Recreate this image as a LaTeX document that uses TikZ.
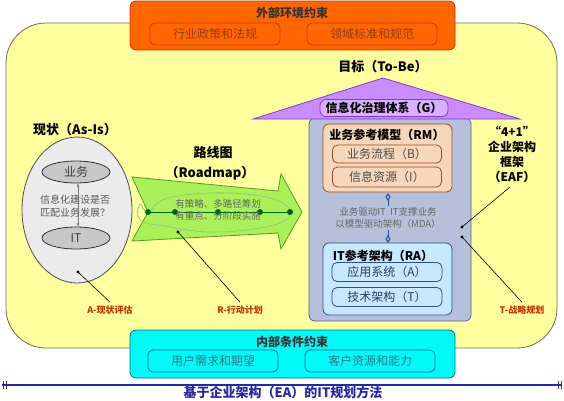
\documentclass[tikz,border=0pt]{standalone}
\usepackage{fontspec}
\setmainfont{Noto Sans CJK SC}
\usetikzlibrary{arrows.meta,shapes.geometric}
\definecolor{yel}{RGB}{255,255,160}
\definecolor{yelb}{RGB}{110,110,80}
\definecolor{org}{RGB}{255,102,0}
\definecolor{orgb}{RGB}{190,60,10}
\definecolor{orgt}{RGB}{150,60,20}
\definecolor{cyn}{RGB}{0,250,250}
\definecolor{cynb}{RGB}{0,110,140}
\definecolor{cynt}{RGB}{50,120,130}
\definecolor{grayblue}{RGB}{182,192,218}
\definecolor{graybb}{RGB}{90,100,140}
\definecolor{rmfill}{RGB}{248,214,186}
\definecolor{rmb}{RGB}{150,80,40}
\definecolor{rafill}{RGB}{200,232,255}
\definecolor{rab}{RGB}{40,80,150}
\definecolor{ragt}{RGB}{40,60,100}
\definecolor{purp}{RGB}{200,140,255}
\definecolor{purpb}{RGB}{130,60,200}
\definecolor{grn}{RGB}{170,240,90}
\definecolor{grnb}{RGB}{80,160,30}
\definecolor{dgrn}{RGB}{0,100,20}
\definecolor{lblc}{RGB}{200,50,0}
\definecolor{navy}{RGB}{40,40,160}
\tikzset{
  subbox/.style={draw, rounded corners=5pt, line width=0.8pt, minimum height=#1, inner sep=0pt},
  ttl/.style={font=\fontsize{12}{14}\selectfont\bfseries},
  lbl/.style={font=\fontsize{9}{11}\selectfont\bfseries, text=lblc},
  pointer/.style={draw=black, line width=0.6pt},
  gdot/.style={circle, fill=dgrn, inner sep=0pt, minimum size=6pt}
}
\begin{document}
\begin{tikzpicture}[x=1pt,y=-1pt]
\useasboundingbox (0,0) rectangle (564,400);
\fill[white] (0,0) rectangle (564,400);
% yellow main area
\draw[fill=yel, draw=yelb, line width=0.8pt, rounded corners=40pt] (6,23) rectangle (557,348);
% orange top box
\draw[fill=org, draw=orgb, line width=0.8pt, rounded corners=6pt] (130,1) rectangle (455,50);
\node[ttl, text=black!80] (ext) at (292,13) {外部环境约束};
\node[draw=orgb, line width=0.8pt, rounded corners=5pt, minimum width=130pt, minimum height=22pt, inner sep=0pt, text=orgt, font=\fontsize{12}{14}\selectfont] (e1) at (215,34) {行业政策和法规};
\node[draw=orgb, line width=0.8pt, rounded corners=5pt, minimum width=130pt, minimum height=22pt, inner sep=0pt, text=orgt, font=\fontsize{12}{14}\selectfont] (e2) at (372,34) {领域标准和规范};
% cyan bottom box
\draw[fill=cyn, draw=cynb, line width=0.8pt, rounded corners=6pt] (130,330) rectangle (455,378);
\node[ttl, text=black!80] (int) at (292,342) {内部条件约束};
\node[draw=cynb, line width=0.8pt, rounded corners=5pt, minimum width=130pt, minimum height=22pt, inner sep=0pt, text=cynt, font=\fontsize{12}{14}\selectfont] (i1) at (213,361) {用户需求和期望};
\node[draw=cynb, line width=0.8pt, rounded corners=5pt, minimum width=130pt, minimum height=22pt, inner sep=0pt, text=cynt, font=\fontsize{12}{14}\selectfont] (i2) at (370,361) {客户资源和能力};
% title line
\draw[navy, line width=1.2pt] (2,385) -- (562,385);
\draw[navy, line width=1pt] (3,381) -- (3,389) (6,381) -- (6,389) (558,381) -- (558,389) (561,381) -- (561,389);
\node[font=\fontsize{13}{15}\selectfont\bfseries, text=navy, inner sep=1pt] (title) at (283,392.5) {基于企业架构（EA）的IT规划方法};
% As-Is
\node[ttl, font=\fontsize{13}{15}\selectfont\bfseries] (asis) at (75,130) {现状（As-Is）};
\node[ellipse, draw=black!70, line width=0.8pt, fill=black!8, minimum width=110pt, minimum height=146pt, inner sep=0pt] (big) at (77,210) {};
\node[ellipse, draw=black!80, line width=0.8pt, fill=black!22, minimum width=68pt, minimum height=22pt, inner sep=0pt, font=\fontsize{12}{14}\selectfont, text=black!75] (yw) at (76,172) {业务};
\node[ellipse, draw=black!80, line width=0.8pt, fill=black!22, minimum width=68pt, minimum height=22pt, inner sep=0pt, font=\fontsize{12}{14}\selectfont, text=black!75] (it) at (76,238) {IT};
\draw[{Stealth[length=4pt]}-{Stealth[length=4pt]}, black!50, line width=0.6pt] (yw.south) ++(2,0) coordinate (ya) -- (ya |- it.north);
\node[font=\fontsize{10}{12.5}\selectfont, text=black!65, align=center] (q) at (75,206) {信息化建设是否\\匹配业务发展？};
\coordinate (adot) at (78,272);
\fill (adot) circle (1.6pt);
\node[lbl] (la) at (110,310) {A-现状评估};
\draw[pointer] (adot) -- (la.north);
% Roadmap arrow
\node[ttl, font=\fontsize{13}{15}\selectfont\bfseries] (rm1) at (213,153) {路线图};
\node[ttl, font=\fontsize{13}{15}\selectfont\bfseries] (rm2) at (210,173) {（Roadmap）};
\draw[fill=grn, draw=grnb, line width=0.8pt] (132,177) -- (278,191) -- (281,174) -- (302,212) -- (281,249) -- (278,233) -- (132,241) -- (148,212) -- cycle;
\draw[grnb!60!white, line width=0.8pt] plot[smooth cycle, tension=0.7] coordinates {(148,212) (165,199) (210,193) (260,196) (287,206) (287,219) (260,228) (210,232) (165,226) (140,220) (140,204)};
\draw[dgrn, line width=1pt] (148,212) -- (290,212);
\foreach \x/\n in {148/g1,175/g2,218/g3,260/g4,290/g5} \node[gdot] (\n) at (\x,212) {};
\node[font=\fontsize{9.5}{11.5}\selectfont, text=black!60, align=left] (rmt) at (218,210) {有策略、多路径筹划\\有重点、分阶段实施};
\coordinate (rdot) at (178,232);
\fill (rdot) circle (1.6pt);
\node[lbl] (lr) at (240,310) {R-行动计划};
\draw[pointer] (rdot) -- (lr.north);
% To-Be
\node[ttl, font=\fontsize{13}{15}\selectfont\bfseries] (tobe) at (383,67) {目标（To-Be）};
\draw[fill=grayblue, draw=graybb, line width=0.8pt, rounded corners=6pt] (309,118) rectangle (471,321);
\draw[fill=purp, draw=purpb, line width=0.8pt] (383,78) -- (520,119) -- (253,119) -- cycle;
\node[draw=purpb, fill=purp!70!white, line width=0.8pt, rounded corners=6pt, minimum width=128pt, minimum height=17pt, inner sep=0pt, ttl] (gov) at (384,108) {信息化治理体系（G）};
% RM
\draw[fill=rmfill, draw=rmb, line width=0.8pt, rounded corners=6pt] (323,124) rectangle (452,192);
\node[ttl] (rmh) at (387,135) {业务参考模型（RM）};
\node[subbox=18pt, draw=rmb, fill=rmfill, minimum width=109pt, font=\fontsize{12}{14}\selectfont, text=black!70] (b) at (387,154) {业务流程（B）};
\node[subbox=20pt, draw=rmb, fill=rmfill, minimum width=109pt, font=\fontsize{12}{14}\selectfont, text=black!70] (ii) at (387,177) {信息资源（I）};
% RA
\draw[fill=rafill, draw=rab, line width=0.8pt, rounded corners=6pt] (323,243) rectangle (452,315);
\node[ttl] (rah) at (383,256) {IT参考架构（RA）};
\node[subbox=19pt, draw=rab, fill=rafill, minimum width=110pt, font=\fontsize{12}{14}\selectfont, text=ragt] (a) at (387,272) {应用系统（A）};
\node[subbox=19pt, draw=rab, fill=rafill, minimum width=110pt, font=\fontsize{12}{14}\selectfont, text=ragt] (t) at (387,297) {技术架构（T）};
\draw[{Diamond[open, length=8pt, width=5pt]}-{Diamond[open, length=8pt, width=5pt]}, rab, line width=1pt] (388,193) coordinate (m1) -- (388,243) coordinate (m2);
\node[font=\fontsize{9.5}{12.5}\selectfont, text=black!60, align=center, fill=grayblue, inner sep=1pt] (mda) at (388,218) {业务驱动IT\ \ IT支撑业务\\以模型驱动架构（MDA）};
% EAF
\node[ttl, align=center, font=\fontsize{12}{15}\selectfont\bfseries] (eaf) at (512,154) {“4+1”\\企业架构\\框架\\（EAF）};
\coordinate (edot) at (462,227);
\coordinate (tdot) at (462,237);
\fill (edot) circle (1.6pt) (tdot) circle (1.6pt);
\draw[pointer] (edot) -- (510,187);
\node[lbl] (lt) at (522,310) {T-战略规划};
\draw[pointer] (tdot) -- (lt.north);
\end{tikzpicture}
\end{document}
